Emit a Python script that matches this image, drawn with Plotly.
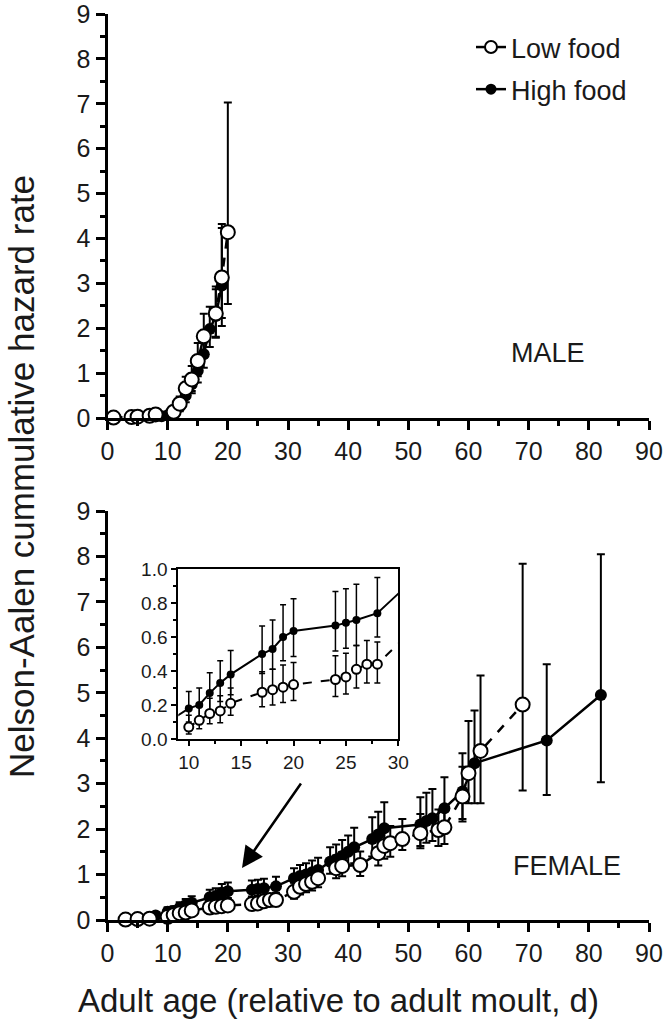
import plotly.graph_objects as go

# ---------------- DATA ----------------
# Male, low food
m_low_day = [1, 4, 5, 7, 8, 11, 12, 13, 14, 15, 16, 18, 19, 20]
m_low_val = [0.01, 0.02, 0.03, 0.05, 0.08, 0.14, 0.32, 0.66, 0.86, 1.27, 1.82, 2.33, 3.13, 4.14]
m_low_up = [0.01, 0.02, 0.03, 0.05, 0.07, 0.10, 0.16, 0.26, 0.30, 0.40, 0.50, 0.60, 1.10, 2.89]
m_low_dn = [0.01, 0.02, 0.03, 0.04, 0.06, 0.08, 0.14, 0.22, 0.26, 0.34, 0.44, 0.52, 0.90, 1.60]

# Male, high food
m_high_day = [4, 5, 9, 10, 11, 12, 13, 14, 15, 16, 17, 18, 19]
m_high_val = [0.01, 0.02, 0.04, 0.06, 0.13, 0.25, 0.50, 0.75, 1.05, 1.42, 1.98, 2.27, 2.95]
m_high_up = [0.01, 0.02, 0.04, 0.05, 0.08, 0.12, 0.18, 0.24, 0.30, 0.40, 0.50, 0.60, 1.37]
m_high_dn = [0.01, 0.02, 0.03, 0.04, 0.07, 0.10, 0.15, 0.20, 0.26, 0.30, 0.40, 0.48, 0.90]

# Female, low food
f_low_day = [3, 5, 7, 10, 11, 12, 13, 14, 17, 18, 19, 20, 24, 25, 26, 27, 28, 31, 32, 33, 34, 35,
             38, 39, 42, 45, 46, 47, 49, 52, 55, 56, 59, 60, 62, 69]
f_low_val = [0.01, 0.02, 0.03, 0.07, 0.11, 0.15, 0.165, 0.21, 0.275, 0.29, 0.305, 0.32, 0.35, 0.365,
             0.41, 0.44, 0.44, 0.62, 0.73, 0.79, 0.84, 0.92, 1.14, 1.19, 1.21, 1.47, 1.63, 1.69, 1.78,
             1.91, 1.98, 2.04, 2.72, 3.23, 3.72, 4.74]
f_low_up = [0.01, 0.02, 0.03, 0.07, 0.08, 0.09, 0.09, 0.09, 0.12, 0.12, 0.13, 0.13, 0.14, 0.14,
            0.14, 0.14, 0.13, 0.20, 0.22, 0.23, 0.24, 0.25, 0.28, 0.30, 0.30, 0.34, 0.36, 0.38, 0.44,
            0.42, 0.45, 0.47, 0.65, 1.15, 1.66, 3.10]
f_low_dn = [0.01, 0.02, 0.03, 0.04, 0.05, 0.06, 0.07, 0.07, 0.085, 0.09, 0.09, 0.093, 0.10, 0.10,
            0.11, 0.11, 0.11, 0.15, 0.17, 0.18, 0.19, 0.20, 0.22, 0.23, 0.24, 0.27, 0.28, 0.30, 0.24,
            0.33, 0.35, 0.37, 0.50, 0.66, 1.15, 1.89]

# Female, high food
f_high_day = [8, 10, 11, 12, 13, 14, 17, 18, 19, 20, 24, 25, 26, 28, 31, 32, 33, 34, 35, 37, 38,
              39, 40, 41, 44, 45, 46, 52, 53, 54, 56, 59, 61, 73, 82]
f_high_val = [0.10, 0.18, 0.20, 0.27, 0.33, 0.38, 0.50, 0.53, 0.60, 0.635, 0.667, 0.684, 0.70, 0.74,
              0.92, 0.97, 1.00, 1.05, 1.10, 1.28, 1.33, 1.41, 1.50, 1.60, 1.78, 1.88, 2.02, 2.10,
              2.18, 2.24, 2.46, 2.83, 3.45, 3.95, 4.95]
f_high_up = [0.07, 0.10, 0.10, 0.12, 0.13, 0.14, 0.165, 0.17, 0.19, 0.19, 0.20, 0.20, 0.21, 0.21,
             0.22, 0.24, 0.25, 0.26, 0.27, 0.32, 0.33, 0.35, 0.36, 0.43, 0.48, 0.50, 0.57, 0.60,
             0.62, 0.64, 0.68, 0.84, 1.16, 1.68, 3.10]
f_high_dn = [0.05, 0.08, 0.08, 0.10, 0.11, 0.12, 0.115, 0.12, 0.14, 0.15, 0.15, 0.15, 0.15, 0.14,
             0.18, 0.19, 0.20, 0.21, 0.22, 0.26, 0.27, 0.28, 0.30, 0.35, 0.38, 0.40, 0.45, 0.47,
             0.48, 0.50, 0.55, 0.66, 0.88, 1.20, 1.92]

x_ticks = [0, 10, 20, 30, 40, 50, 60, 70, 80, 90]
y_ticks = [0, 1, 2, 3, 4, 5, 6, 7, 8, 9]
inset_x_ticks = [10, 15, 20, 25, 30]
inset_y_ticks = [0.0, 0.2, 0.4, 0.6, 0.8, 1.0]

# ---------------- FIGURE ----------------
W, H = 666, 1024
FONT = "Liberation Sans, Arial, Helvetica, sans-serif"
TXT = "#1a1a1a"
fig = go.Figure()


def px_x(p):
    return p / W


def px_y(p):
    return 1 - p / H


def add_series(days, vals, up, dn, xa, ya, open_marker, msize, lw, dash, ebw, ebthick):
    fig.add_trace(go.Scatter(
        x=days, y=vals, xaxis=xa, yaxis=ya, mode="lines+markers",
        line=dict(color="black", width=lw, dash=dash),
        marker=dict(symbol="circle", size=msize,
                    color="white" if open_marker else "black",
                    line=dict(color="black", width=2 if open_marker else 0)),
        error_y=dict(type="data", symmetric=False, array=up, arrayminus=dn,
                     color="black", thickness=ebthick, width=ebw),
        showlegend=False, cliponaxis=(xa == "x3"),
    ))


# Male panel (high first, low on top)
add_series(m_high_day, m_high_val, m_high_up, m_high_dn, "x", "y", False, 12, 2.5, "solid", 4, 2)
add_series(m_low_day, m_low_val, m_low_up, m_low_dn, "x", "y", True, 14, 2.5, "dash", 4, 2)
# Female panel
add_series(f_high_day, f_high_val, f_high_up, f_high_dn, "x2", "y2", False, 12, 2.5, "solid", 4, 2)
add_series(f_low_day, f_low_val, f_low_up, f_low_dn, "x2", "y2", True, 14, 2.5, "dash", 4, 2)
# Inset
add_series(f_high_day, f_high_val, f_high_up, f_high_dn, "x3", "y3", False, 8, 2, "solid", 3, 1.5)
add_series(f_low_day, f_low_val, f_low_up, f_low_dn, "x3", "y3", True, 9, 2, "dash", 3, 1.5)

# Legend entries
fig.add_trace(go.Scatter(x=[None], y=[None], mode="lines+markers", name="Low food",
                         legendgroup="a",
                         line=dict(color="black", width=2.5),
                         marker=dict(size=12, color="white", line=dict(color="black", width=2))))
fig.add_trace(go.Scatter(x=[None], y=[None], mode="lines+markers", name="High food",
                         legendgroup="b",
                         line=dict(color="black", width=2.5),
                         marker=dict(size=11, color="black")))

x_dom = [px_x(107.5), px_x(649)]
main_axis = dict(showline=True, linewidth=3, linecolor="black", ticks="outside", ticklen=9,
                 tickwidth=2.5, tickcolor="black", showgrid=False, zeroline=False,
                 automargin=False, ticklabeloverflow="allow",
                 tickfont=dict(size=25, color=TXT, family=FONT))

xa = dict(main_axis, range=[0, 90], tickvals=x_ticks,
          minor=dict(tickvals=[5, 15, 25, 35, 45, 55, 65, 75, 85], ticklen=5, tickwidth=2.5,
                     ticks="outside", tickcolor="black"))
ya = dict(main_axis, range=[0, 9], tickvals=y_ticks,
          minor=dict(tickvals=[0.5, 1.5, 2.5, 3.5, 4.5, 5.5, 6.5, 7.5, 8.5], ticklen=5,
                     tickwidth=2.5, ticks="outside", tickcolor="black"))

inset_axis = dict(showline=True, mirror=True, linewidth=2, linecolor="black", ticks="outside",
                  ticklen=5, tickwidth=2, tickcolor="black", showgrid=False, zeroline=False,
                  automargin=False, ticklabeloverflow="allow",
                  tickfont=dict(size=19, color=TXT, family=FONT))

fig.update_layout(
    template="none",
    width=W, height=H, margin=dict(l=0, r=0, t=0, b=0, pad=0),
    paper_bgcolor="white", plot_bgcolor="rgba(0,0,0,0)",
    font=dict(family=FONT, color=TXT),
    xaxis=dict(xa, domain=x_dom, anchor="y"),
    yaxis=dict(ya, domain=[px_y(418), px_y(14)], anchor="x"),
    xaxis2=dict(xa, domain=x_dom, anchor="y2"),
    yaxis2=dict(ya, domain=[px_y(920), px_y(511)], anchor="x2"),
    xaxis3=dict(inset_axis, domain=[px_x(178.3), px_x(398.3)], anchor="y3", range=[9, 30],
                tickvals=inset_x_ticks,
                minor=dict(tickvals=[12.5, 17.5, 22.5, 27.5], ticklen=3, tickwidth=2,
                           ticks="outside", tickcolor="black")),
    yaxis3=dict(inset_axis, domain=[px_y(739), px_y(569)], anchor="x3", range=[0, 1],
                tickvals=inset_y_ticks, tickformat=".1f",
                minor=dict(tickvals=[0.1, 0.3, 0.5, 0.7, 0.9], ticklen=3, tickwidth=2,
                           ticks="outside", tickcolor="black")),
    showlegend=True,
    legend=dict(x=px_x(471), y=px_y(23), xanchor="left", yanchor="top",
                font=dict(size=27, color=TXT, family=FONT),
                bgcolor="rgba(0,0,0,0)", borderwidth=0, itemwidth=30, tracegroupgap=4),
)

fig.add_annotation(text="Nelson-Aalen cummulative hazard rate", xref="paper", yref="paper",
                   x=px_x(21), y=px_y(477), textangle=-90, showarrow=False,
                   xanchor="center", yanchor="middle", font=dict(size=35, family=FONT))
fig.add_annotation(text="Adult age (relative to adult moult, d)", xref="paper", yref="paper",
                   x=px_x(338), y=px_y(1000), showarrow=False,
                   xanchor="center", yanchor="middle", font=dict(size=33, family=FONT))
fig.add_annotation(text="MALE", xref="paper", yref="paper", x=px_x(548), y=px_y(353),
                   showarrow=False, xanchor="center", yanchor="middle",
                   font=dict(size=27, family=FONT))
fig.add_annotation(text="FEMALE", xref="paper", yref="paper", x=px_x(567), y=px_y(866),
                   showarrow=False, xanchor="center", yanchor="middle",
                   font=dict(size=27, family=FONT))
fig.add_annotation(text="", xref="paper", yref="paper", x=px_x(242), y=px_y(868),
                   ax=60, ay=-86, showarrow=True, arrowhead=2, arrowsize=1.7,
                   arrowwidth=2.5, arrowcolor="black")

fig.write_html("out.html", config={"displayModeBar": False},
               post_script="document.body.style.margin='0';document.body.style.overflow='hidden';")
